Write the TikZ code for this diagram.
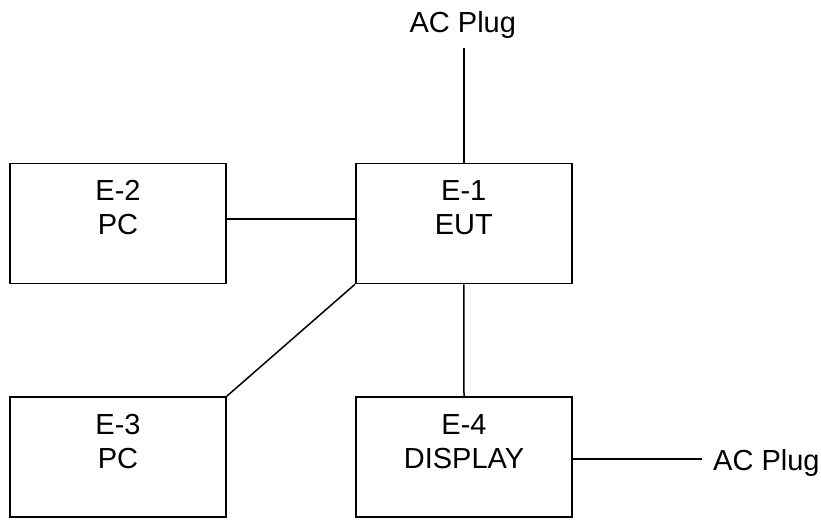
\documentclass[tikz,border=0pt]{standalone}
\usepackage{fontspec}
\setmainfont{Liberation Sans}
\usetikzlibrary{calc}
\tikzset{
  unit/.style={draw=black, line width=1.5pt, minimum width=216pt, minimum height=120pt, inner sep=0pt, fill=white},
  lbl/.style={align=center, inner sep=0pt, font=\fontsize{29}{34}\selectfont},
  plug/.style={inner sep=0pt, font=\fontsize{29}{34}\selectfont},
  wire/.style={line width=1.5pt, line cap=butt}
}
\begin{document}
\begin{tikzpicture}[x=1pt, y=-1pt]
\useasboundingbox (0,0) rectangle (821,520);
% boxes
\node[unit] (e2) at (118,223.5) {};
\node[unit] (e1) at (463.75,223.5) {};
\node[unit] (e3) at (118,457) {};
\node[unit] (e4) at (464,457) {};
% labels
\node[lbl] (t2) at ($(e2.center)+(0,-15.5)$) {E-2\\PC};
\node[lbl] (t1) at ($(e1.center)+(0,-15.5)$) {E-1\\EUT};
\node[lbl] (t3) at ($(e3.center)+(0,-15.5)$) {E-3\\PC};
\node[lbl] (t4) at ($(e4.center)+(0,-15.5)$) {E-4\\DISPLAY};
% plugs
\node[plug, anchor=base] (p1) at (462.8,32.7) {AC Plug};
\node[plug, anchor=base west] (p2) at (713,470) {AC Plug};
\coordinate (p1end) at (463.5,47.7);
\coordinate (p2end) at (701.7,459);
% connectors
\draw[wire] (e1.north) -- (e1.north |- p1end);
\draw[wire] ([yshift=4.5pt]e2.east) -- ([yshift=4.5pt]e1.west);
\draw[wire] (e1.south west) -- (e3.north east);
\draw[wire] (e1.south) -- (e4.north);
\draw[wire] (e4.east |- p2end) -- (p2end);
\end{tikzpicture}
\end{document}
